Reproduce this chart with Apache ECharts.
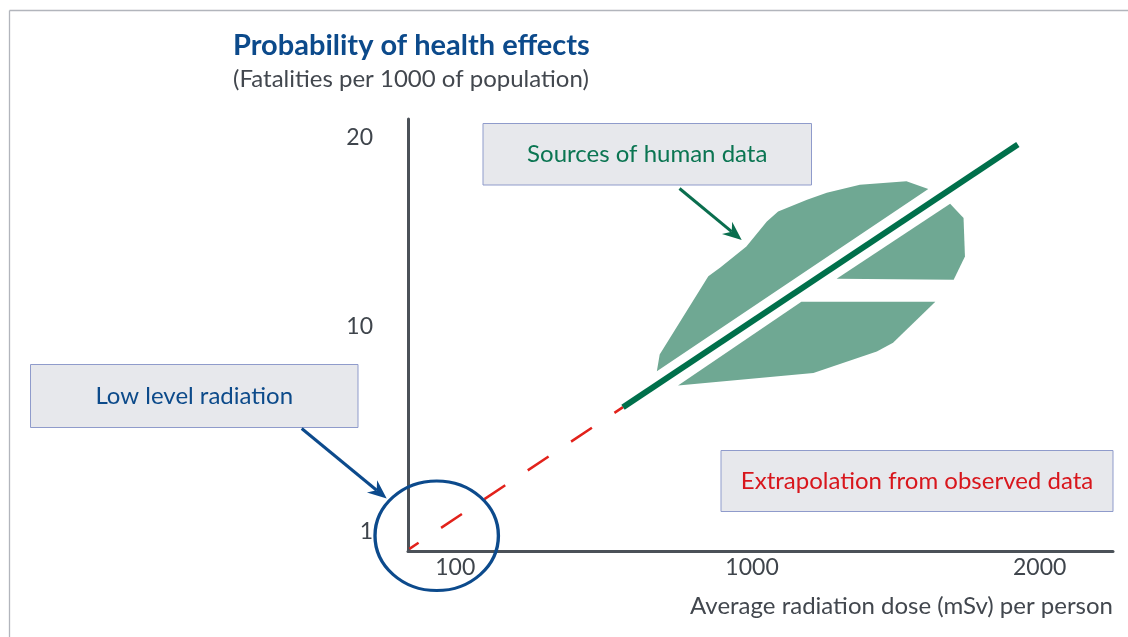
<!DOCTYPE html>
<html>
<head>
<meta charset="utf-8">
<script src="https://cdn.jsdelivr.net/npm/echarts@6/dist/echarts.min.js"></script>
<style>
html,body{margin:0;padding:0;background:#ffffff;}
#c{width:1128px;height:637px;}
</style>
</head>
<body>
<div id="c"></div>
<script>
// The original figure is schematic (not to scale): both axes are in percent of axis length,
// and the printed tick labels sit at the positions.
const xTickLabels = ['100', '1000', '2000'];
const xTickAt = [6.7, 48.8, 89.6];
const yTickLabels = ['1', '10', '20'];
const yTickAt = [4.6, 52.0, 95.7];

// Dose-response line: extrapolated part (dashed) and observed part (solid)
const extrapolated = [[0.2, 0.5], [30.5, 33.3]];
const observed = [[30.5, 33.3], [86.5, 94.1]];

// "Sources of human data" leaf-shaped region, three pieces
const leafUpper = [[35.3, 41.6], [35.7, 45.5], [42.6, 63.6], [44.3, 65.6], [48.0, 70.5], [50.9, 76.3],
  [52.5, 78.6], [56.6, 81.3], [59.4, 82.9], [64.1, 84.8], [70.7, 85.6], [73.8, 83.8]];
const leafRight = [[76.9, 80.4], [78.8, 77.1], [79.0, 68.2], [77.4, 62.8], [60.8, 63.0]];
const leafLower = [[55.8, 57.7], [74.8, 57.7], [68.8, 48.2], [66.5, 46.2], [57.5, 41.2], [38.3, 38.3]];

const FONT = 'Lato, "Open Sans", sans-serif';

function tickFormatter(values, labels) {
  return function (v) {
    for (let i = 0; i < values.length; i++) {
      if (Math.abs(values[i] - v) < 1e-6) return labels[i];
    }
    return '';
  };
}

function leafSeries(points) {
  return {
    type: 'custom',
    z: 1,
    silent: true,
    data: [0],
    renderItem: function (params, api) {
      return {
        type: 'polygon',
        shape: { points: points.map(function (p) { return api.coord(p); }) },
        style: { fill: '#6fa893' }
      };
    }
  };
}

function arrow(x1, y1, x2, y2, color) {
  const a = Math.atan2(y2 - y1, x2 - x1);
  const c = Math.cos(a), s = Math.sin(a);
  const L = 19, W = 8, N = 13;
  const bx = x2 - L * c, by = y2 - L * s;
  const nx = x2 - N * c, ny = y2 - N * s;
  return [
    { type: 'line', z: 20, shape: { x1: x1, y1: y1, x2: nx, y2: ny }, style: { stroke: color, lineWidth: 3 } },
    { type: 'polygon', z: 20, shape: { points: [[x2, y2], [bx - W * s, by + W * c], [nx, ny], [bx + W * s, by - W * c]] },
      style: { fill: color } }
  ];
}

function box(x, y, w, h, text, color) {
  return [
    { type: 'rect', z: 5, shape: { x: x, y: y, width: w, height: h },
      style: { fill: '#e7e8ec', stroke: '#8f9bcb', lineWidth: 1 } },
    { type: 'text', z: 6, x: x + w / 2, y: y + h / 2,
      style: { text: text, fill: color, font: '24px ' + FONT, align: 'center', verticalAlign: 'middle' } }
  ];
}

const chart = echarts.init(document.getElementById('c'), null, { renderer: 'canvas' });

const graphics = []
  // frame
  .concat([
    { type: 'line', z: 0, shape: { x1: 9.5, y1: 10.5, x2: 1128, y2: 10.5 }, style: { stroke: '#b2b5bc', lineWidth: 1.3 } },
    { type: 'line', z: 0, shape: { x1: 9.5, y1: 10.5, x2: 9.5, y2: 637 }, style: { stroke: '#b2b5bc', lineWidth: 1.3 } }
  ])
  .concat(box(483, 123.5, 328.5, 61.5, 'Sources of human data', '#0b7552'))
  .concat(box(30.5, 364.5, 327.5, 63, 'Low level radiation', '#0c4a8a'))
  .concat(box(721, 450.5, 392, 61, 'Extrapolation from observed data', '#d8161c'))
  .concat(arrow(679.5, 188.5, 741.7, 240, '#0a6e4e'))
  .concat(arrow(301.7, 428.5, 386.7, 498.5, '#0c4a8c'))
  .concat([
    { type: 'circle', z: 20, x: 436.7, y: 535.8, scaleX: 61.7 / 54.8, scaleY: 1,
      shape: { cx: 0, cy: 0, r: 54.8 },
      style: { fill: 'none', stroke: '#0c4a8c', lineWidth: 3, strokeNoScale: true } }
  ]);

chart.setOption({
  animation: false,
  backgroundColor: '#ffffff',
  title: {
    text: 'Probability of health effects',
    subtext: '(Fatalities per 1000 of population)',
    left: 233,
    top: 31,
    padding: 0,
    itemGap: 7,
    textStyle: { fontFamily: FONT, fontWeight: 'bold', fontSize: 29, color: '#0c4a8b' },
    subtextStyle: { fontFamily: FONT, fontSize: 24, color: '#42474e' }
  },
  grid: { left: 408, right: 15, top: 119, bottom: 86, outerBoundsMode: 'none', containLabel: false },
  xAxis: {
    type: 'value',
    min: 0,
    max: 100,
    name: 'Average radiation dose (mSv) per person',
    nameLocation: 'end',
    nameGap: 0,
    nameTextStyle: { fontFamily: FONT, fontSize: 24, color: '#42474e', align: 'right', verticalAlign: 'top', padding: [43, 0, 0, 0] },
    axisLine: { show: true, onZero: false, lineStyle: { color: '#4b5158', width: 3 } },
    axisTick: { show: false },
    splitLine: { show: false },
    axisLabel: {
      customValues: xTickAt,
      formatter: tickFormatter(xTickAt, xTickLabels),
      fontFamily: FONT, fontSize: 23, color: '#3f454c', margin: 5
    }
  },
  yAxis: {
    type: 'value',
    min: 0,
    max: 100,
    axisLine: { show: true, onZero: false, lineStyle: { color: '#4b5158', width: 3 } },
    axisTick: { show: false },
    splitLine: { show: false },
    axisLabel: {
      customValues: yTickAt,
      formatter: tickFormatter(yTickAt, yTickLabels),
      fontFamily: FONT, fontSize: 23, color: '#3f454c', margin: 35
    }
  },
  series: [
    leafSeries(leafUpper),
    leafSeries(leafRight),
    leafSeries(leafLower),
    {
      type: 'line',
      name: 'Extrapolation from observed data',
      data: extrapolated,
      symbol: 'none',
      z: 3,
      silent: true,
      lineStyle: { color: '#e2221b', width: 2.5, type: [25, 27], dashOffset: 14, cap: 'butt' }
    },
    {
      type: 'line',
      name: 'Sources of human data',
      data: observed,
      symbol: 'none',
      z: 4,
      silent: true,
      lineStyle: { color: '#00704b', width: 6, cap: 'butt' }
    }
  ],
  graphic: { elements: graphics }
});
</script>
</body>
</html>
